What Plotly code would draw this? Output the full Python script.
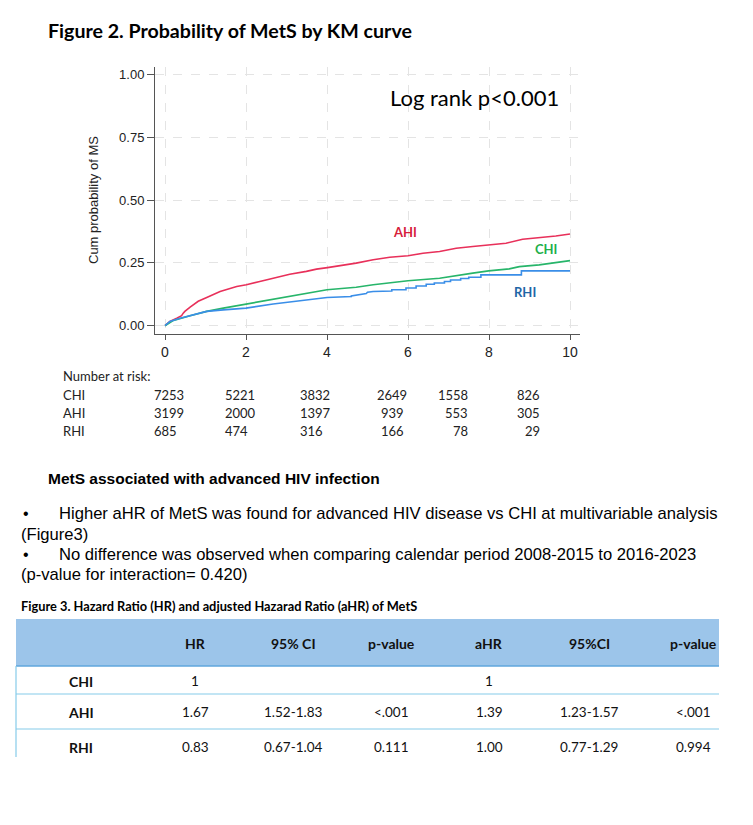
import plotly.graph_objects as go

# ---------------- data ----------------
ahi_t = [0, 0.12, 0.29, 0.41, 0.45, 0.49, 0.62, 0.82, 1.03, 1.36, 1.77, 2.01, 2.34, 2.67, 3.08, 3.49, 3.74,
         4.01, 4.31, 4.72, 5.14, 5.55, 6.0, 6.37, 6.78, 7.19, 7.6, 7.99, 8.42, 8.83, 9.24, 9.65, 10]
ahi_p = [0, 0.017, 0.030, 0.040, 0.050, 0.057, 0.074, 0.097, 0.112, 0.136, 0.156, 0.163, 0.176, 0.189, 0.205,
         0.216, 0.225, 0.231, 0.238, 0.249, 0.262, 0.272, 0.278, 0.288, 0.295, 0.308, 0.315, 0.321, 0.328,
         0.344, 0.350, 0.357, 0.365]

chi_t = [0, 0.21, 0.62, 1.03, 1.44, 2.0, 2.67, 3.33, 4.0, 4.72, 5.14, 6.0, 6.78, 7.6, 7.99, 8.5, 8.75, 9.24, 10]
chi_p = [0, 0.021, 0.040, 0.057, 0.070, 0.086, 0.106, 0.123, 0.143, 0.153, 0.163, 0.179, 0.189, 0.209,
         0.218, 0.226, 0.235, 0.242, 0.259]

rhi_t = [0, 0.12, 0.37, 0.70, 1.03, 1.44, 2.0, 2.67, 3.33, 3.66, 4.0, 4.6, 4.6, 4.97, 5.0, 5.14,
         5.6, 5.6, 5.95, 5.95, 6.2, 6.2, 6.45, 6.45, 6.65, 6.65, 6.9, 6.9, 7.05, 7.05, 7.3, 7.3,
         7.5, 7.5, 7.8, 7.8, 8.8, 8.8, 10]
rhi_p = [0, 0.017, 0.030, 0.044, 0.057, 0.063, 0.070, 0.086, 0.099, 0.108, 0.112, 0.116, 0.118, 0.128, 0.133, 0.136,
         0.138, 0.143, 0.143, 0.150, 0.150, 0.158, 0.158, 0.165, 0.165, 0.170, 0.170, 0.176, 0.176, 0.182, 0.182, 0.188,
         0.188, 0.193, 0.193, 0.202, 0.202, 0.218, 0.218]

x_ticks = [0, 2, 4, 6, 8, 10]
y_ticks = [0, 0.25, 0.5, 0.75, 1.0]
y_ticklabels = ["0.00", "0.25", "0.50", "0.75", "1.00"]

risk_groups = ["CHI", "AHI", "RHI"]
chi_risk = [7253, 5221, 3832, 2649, 1558, 826]
ahi_risk = [3199, 2000, 1397, 939, 553, 305]
rhi_risk = [685, 474, 316, 166, 78, 29]

table_header = ["", "HR", "95% CI", "p-value", "aHR", "95%CI", "p-value"]
table_rows = ["CHI", "AHI", "RHI"]
row_chi = ["1", "", "", "1", "", ""]
row_ahi = ["1.67", "1.52-1.83", "<.001", "1.39", "1.23-1.57", "<.001"]
row_rhi = ["0.83", "0.67-1.04", "0.111", "1.00", "0.77-1.29", "0.994"]

title_text = "Figure 2. Probability of MetS by KM curve"
logrank_text = "Log rank p<0.001"
section_title = "MetS associated with advanced HIV infection"
bullet1 = "Higher aHR of MetS was found for advanced HIV disease vs CHI at multivariable analysis"
bullet1_cont = "(Figure3)"
bullet2 = "No difference was observed when comparing calendar period 2008-2015 to 2016-2023"
bullet2_cont = "(p-value for interaction= 0.420)"
fig3_caption = "Figure 3. Hazard Ratio (HR) and adjusted Hazarad Ratio (aHR) of MetS"

# ---------------- layout helpers (page pixel -> paper) ----------------
OFF = 8                      # page body margin
W, H = 753 - OFF, 825 - OFF  # figure size so that it fits the window exactly
L, R, T, B = 155, 580, 67, 334   # plot area in page pixels


def px(x):
    return (x - L) / (R - L)


def py(y):
    return (B - y) / (B - T)


CAL = "Lato, 'Open Sans', sans-serif"
ARIAL = "'Liberation Sans', Arial, sans-serif"

fig = go.Figure()
fig.add_trace(go.Scatter(x=ahi_t, y=ahi_p, mode="lines", line=dict(color="#e8305a", width=1.6),
                         name="AHI", showlegend=False))
fig.add_trace(go.Scatter(x=chi_t, y=chi_p, mode="lines", line=dict(color="#27b56a", width=1.6),
                         name="CHI", showlegend=False))
fig.add_trace(go.Scatter(x=rhi_t, y=rhi_p, mode="lines", line=dict(color="#3a8ee8", width=1.6),
                         name="RHI", showlegend=False))

ann = []


def text(x, y, s, size, family=CAL, color="#111", xanchor="left", bold=False, angle=0):
    if xanchor == "left":
        x -= 1
    ann.append(dict(x=px(x), y=py(y), xref="paper", yref="paper", text=("<b>%s</b>" % s) if bold else s,
                    showarrow=False, xanchor=xanchor, yanchor="middle", textangle=angle,
                    font=dict(family=family, size=size, color=color)))


# chart texts
text(47, 30, title_text, 19.6, bold=True, color="#000")
text(474, 98, logrank_text, 22, xanchor="center", color="#000")
ann.append(dict(x=5.92, y=0.373, xref="x", yref="y", text="<b>AHI</b>", showarrow=False,
                font=dict(family=CAL, size=13, color="#d6203a")))
ann.append(dict(x=9.41, y=0.306, xref="x", yref="y", text="<b>CHI</b>", showarrow=False,
                font=dict(family=CAL, size=13, color="#22b04b")))
ann.append(dict(x=8.88, y=0.136, xref="x", yref="y", text="<b>RHI</b>", showarrow=False,
                font=dict(family=CAL, size=13, color="#1f66a6")))
text(93, 200, "Cum probability of MS", 13, family=ARIAL, color="#222", xanchor="center", angle=-90)

# number at risk table
text(62, 376, "Number at risk:", 13, color="#222")
risk_cols = [(153, "left"), (224, "left"), (299, "left"), (392, "center"), (470, "right"), (542, "right")]
risk_y = [395, 413, 431]
for g, vals, yy in zip(risk_groups, [chi_risk, ahi_risk, rhi_risk], risk_y):
    text(62, yy, g, 13, color="#222")
    for (cx, anc), v in zip(risk_cols, vals):
        text(cx, yy, str(v), 13, color="#222", xanchor=anc)

# text section
text(47, 478, section_title, 15.5, family=ARIAL, bold=True, color="#000")
text(22, 513, "•", 16, family=ARIAL, color="#000")
text(58, 513, bullet1, 16.6, family=ARIAL, color="#000")
text(20, 534, bullet1_cont, 16.6, family=ARIAL, color="#000")
text(22, 554, "•", 16, family=ARIAL, color="#000")
text(58, 554, bullet2, 16.6, family=ARIAL, color="#000")
text(20, 574, bullet2_cont, 16.6, family=ARIAL, color="#000")
text(20, 606, fig3_caption, 12.8, bold=True, color="#000")

# hazard ratio table
shapes = []
tx0, tx1 = 16, 719
band_top, band_bot = 619, 666
row_lines = [694, 729]
table_bottom = 757
shapes.append(dict(type="rect", xref="paper", yref="paper", x0=px(tx0), x1=px(tx1), y0=py(band_top),
                   y1=py(band_bot), fillcolor="#9cc5ea", line=dict(width=0), layer="below"))
shapes.append(dict(type="line", xref="paper", yref="paper", x0=px(tx0), x1=px(tx1), y0=py(band_bot),
                   y1=py(band_bot), line=dict(color="#5fa6dc", width=1.5)))
for ly in row_lines:
    shapes.append(dict(type="line", xref="paper", yref="paper", x0=px(tx0), x1=px(tx1), y0=py(ly),
                       y1=py(ly), line=dict(color="#86cbea", width=1.2)))
shapes.append(dict(type="line", xref="paper", yref="paper", x0=px(tx0), x1=px(tx0), y0=py(band_bot),
                   y1=py(table_bottom), line=dict(color="#86cbea", width=1.2)))

col_x = [81, 195, 293, 391, 489, 589, 693]
header_y = 643
row_y = [681, 712, 747]
for cx, h in zip(col_x, table_header):
    if h:
        text(cx, header_y, h, 14, bold=True, color="#111", xanchor="center")
for lbl, vals, yy in zip(table_rows, [row_chi, row_ahi, row_rhi], row_y):
    text(col_x[0], yy, lbl, 14, bold=True, color="#111", xanchor="center")
    for cx, v in zip(col_x[1:], vals):
        if v:
            text(cx, yy, v.replace("<", "&lt;"), 13.5, color="#111", xanchor="center")

fig.update_layout(
    width=W, height=H, autosize=False,
    margin=dict(l=L - OFF, r=W - (R - OFF), t=T - OFF, b=H - (B - OFF), pad=0),
    paper_bgcolor="white", plot_bgcolor="white",
    annotations=ann, shapes=shapes,
    xaxis=dict(range=[-0.247, 10.247], tickvals=x_ticks, ticktext=[str(v) for v in x_ticks],
               showline=True, linecolor="#555", linewidth=1, ticks="outside", ticklen=5, tickcolor="#555",
               showgrid=True, gridcolor="#e4e4e4", griddash="dash", gridwidth=1, zeroline=False,
               tickfont=dict(family=ARIAL, size=14, color="#222"), fixedrange=True),
    yaxis=dict(range=[-0.033, 1.029], tickvals=y_ticks, ticktext=y_ticklabels,
               showline=True, linecolor="#555", linewidth=1, ticks="outside", ticklen=7, tickcolor="#555",
               showgrid=True, gridcolor="#e4e4e4", griddash="dash", gridwidth=1, zeroline=False,
               tickfont=dict(family=ARIAL, size=13, color="#222"), fixedrange=True),
)

fig.write_html("out.html")
